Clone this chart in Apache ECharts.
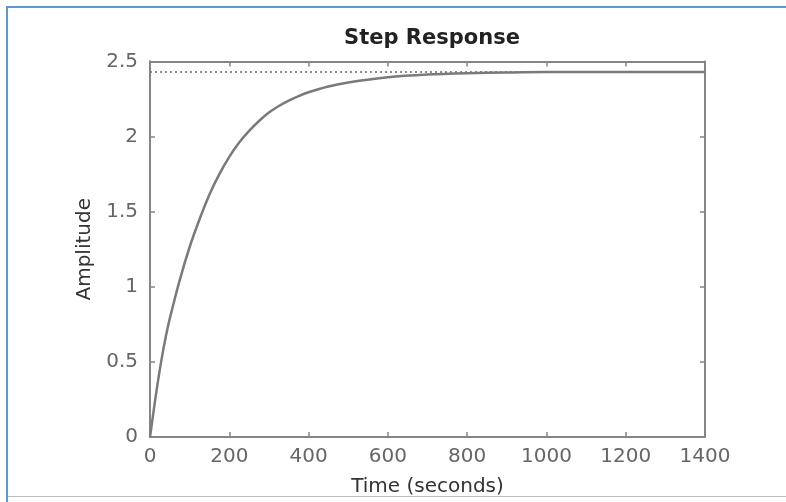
<!DOCTYPE html>
<html>
<head>
<meta charset="utf-8">
<title>Step Response</title>
<script src="https://cdn.jsdelivr.net/npm/echarts@6/dist/echarts.min.js"></script>
<style>
  html, body { margin: 0; padding: 0; background: #fff; }
  #chart { width: 786px; height: 502px; }
</style>
</head>
<body>
<div id="chart"></div>
<script>
// values
var timeSec = [0, 10, 20, 30, 40, 50, 75, 100, 125, 150, 175, 200, 225, 250, 275, 300, 325, 350, 375, 400, 450, 500, 600, 700, 800, 900, 1000, 1200, 1400];
var amplitude = [0, 0.19, 0.37, 0.53, 0.67, 0.79, 1.045, 1.265, 1.45, 1.615, 1.75, 1.865, 1.96, 2.038, 2.104, 2.16, 2.204, 2.24, 2.27, 2.295, 2.333, 2.36, 2.395, 2.413, 2.422, 2.427, 2.43, 2.43, 2.43];
var steadyState = 2.43;
var steadyTimes = [0, 1400];

var font = 'DejaVu Sans';
var frameColor = '#858585';

var responseData = timeSec.map(function (t, i) { return [t, amplitude[i]]; });
var steadyData = steadyTimes.map(function (t) { return [t, steadyState]; });

var chart = echarts.init(document.getElementById('chart'));

function plainNumber(v) { return String(v); }

// box-style axis: frame line with inward ticks, no labels
function frameAxis(extra) {
    var base = {
        type: 'value',
        axisLine: { show: true, onZero: false, lineStyle: { color: frameColor, width: 2 } },
        axisTick: { show: true, inside: true, length: 5, lineStyle: { color: frameColor, width: 1.5 } },
        splitLine: { show: false },
        axisLabel: { show: false }
    };
    return Object.assign(base, extra);
}

var xRange = { min: 0, max: 1400, interval: 200 };
var yRange = { min: 0, max: 2.5, interval: 0.5 };

chart.setOption({
    animation: false,
    backgroundColor: '#fff',
    title: {
        text: 'Step Response',
        left: 427,
        top: 23,
        textAlign: 'center',
        textStyle: { fontFamily: font, fontSize: 21, fontWeight: 'bold', color: '#222' }
    },
    grid: { left: 150, right: 81, top: 61.5, bottom: 60.5 },
    xAxis: [
        Object.assign(frameAxis({
            position: 'bottom',
            name: 'Time (seconds)', nameLocation: 'middle', nameGap: 40,
            nameTextStyle: { fontFamily: font, fontSize: 20, color: '#333' },
            axisTick: { show: false },
            axisLabel: { show: true, margin: 10, formatter: plainNumber, fontFamily: font, fontSize: 20, color: '#666' }
        }), xRange),
        Object.assign(frameAxis({ position: 'top' }), xRange),
        Object.assign(frameAxis({ position: 'bottom' }), xRange)
    ],
    yAxis: [
        Object.assign(frameAxis({
            position: 'left',
            name: 'Amplitude', nameLocation: 'middle', nameGap: 43,
            nameTextStyle: { fontFamily: font, fontSize: 20, color: '#333' },
            axisTick: { show: false },
            axisLabel: { show: true, margin: 12, formatter: plainNumber, fontFamily: font, fontSize: 20, color: '#666' }
        }), yRange),
        Object.assign(frameAxis({ position: 'right' }), yRange),
        Object.assign(frameAxis({ position: 'left' }), yRange)
    ],
    series: [
        {
            type: 'line',
            data: steadyData,
            symbol: 'none',
            silent: true,
            lineStyle: { color: '#666', width: 1.5, type: [2, 3] }
        },
        {
            type: 'line',
            data: responseData,
            symbol: 'none',
            smooth: 0.3,
            lineStyle: { color: '#7a7a7a', width: 2.5 }
        }
    ],
    graphic: [
        { type: 'rect', shape: { x: 6, y: 6, width: 780, height: 2 }, style: { fill: '#5b9bd5' } },
        { type: 'rect', shape: { x: 6, y: 6, width: 2, height: 496 }, style: { fill: '#5b9bd5' } },
        { type: 'rect', shape: { x: 8, y: 496, width: 778, height: 1 }, style: { fill: '#bbbbbb' } }
    ]
});
</script>
</body>
</html>
